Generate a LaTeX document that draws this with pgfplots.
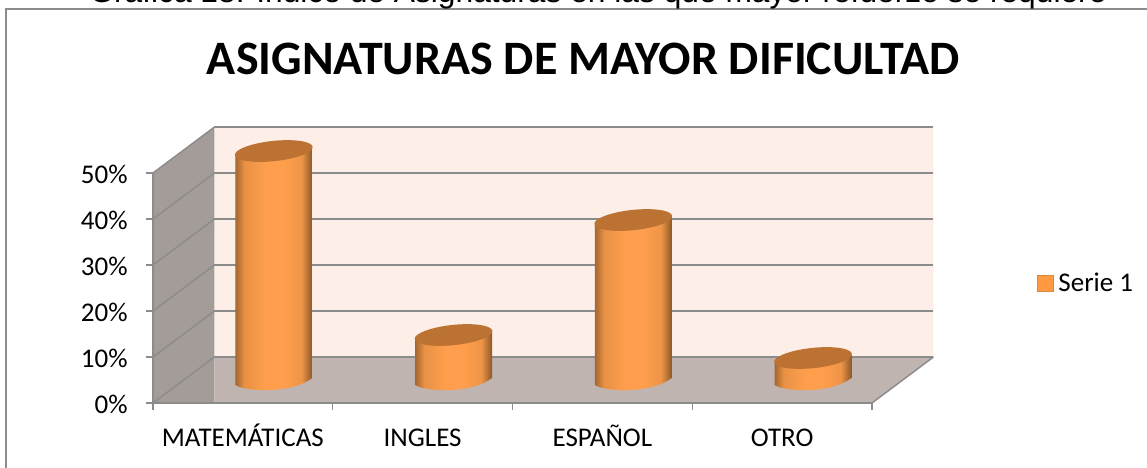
\documentclass[border=0pt]{standalone}
\usepackage{fontspec}
\setmainfont{Carlito}
\newfontfamily\arialfont{Liberation Sans}
\usepackage{pgfplots}
\pgfplotsset{compat=1.18}
\definecolor{axgray}{HTML}{8C8C8C}
\definecolor{wallback}{HTML}{FDEEE7}
\definecolor{wallside}{HTML}{A39C98}
\definecolor{wallfloor}{HTML}{BFB4B0}
\definecolor{cyltop}{HTML}{BB7232}
\definecolor{cyldark}{HTML}{A4662F}
\definecolor{cylmid}{HTML}{FF9F4D}
\definecolor{cylred}{HTML}{8C5826}
\pgfdeclarehorizontalshading{cylbody}{100bp}{color(0bp)=(cyldark);color(25bp)=(cyldark);color(31bp)=(cylmid!75!cyldark);color(45bp)=(cylmid);color(56bp)=(cylmid);color(68bp)=(cylmid!85!cylred);color(75bp)=(cylred);color(100bp)=(cylred)}
\pgfdeclareplotmark{cyl}{%
  \shade[shading=cylbody,draw=none] (-28.9pt,-3.0pt) -- (-28.9pt,-\barh pt-3.0pt)
     .. controls (-19pt,-\barh pt-8.8pt) and (15pt,-\barh pt-9.0pt) .. (28.9pt,-\barh pt+2.4pt)
     -- (28.9pt,2.4pt) -- cycle;
  \fill[cyltop,draw=none] (29.14pt,3.06pt)
     .. controls (28.70pt,7.24pt) and (15.30pt,9.25pt) .. (-0.79pt,7.56pt)
     .. controls (-16.88pt,5.87pt) and (-29.58pt,1.12pt) .. (-29.14pt,-3.06pt)
     .. controls (-28.70pt,-7.24pt) and (-15.30pt,-9.25pt) .. (0.79pt,-7.56pt)
     .. controls (16.88pt,-5.87pt) and (29.58pt,-1.12pt) .. (29.14pt,3.06pt) -- cycle;
}
\begin{document}
\begin{tikzpicture}[x=1pt,y=1pt]
\clip (0,0) rectangle (860.25,351);
\path[draw=axgray,line width=1.1pt] (4.6,-20) rectangle (880,344.2);
\node[anchor=base,font=\arialfont\fontsize{23.8}{24}\selectfont,inner sep=0pt] at (448.5,348.75) {Gráfica 18: Indice de Asignaturas en las que mayor refuerzo se requiere};
\node[anchor=base,font=\fontsize{36}{36}\selectfont\bfseries,inner sep=0pt] at (437.5,295) {ASIGNATURAS DE MAYOR DIFICULTAD};
\begin{axis}[
  at={(114.75pt,48.75pt)},anchor=south west,
  scale only axis,width=539.25pt,height=172.5pt,
  xmin=0,xmax=4,ymin=0,ymax=50,clip=false,
  axis x line*=bottom,axis y line*=left,
  axis line style={draw=axgray,line width=1.1pt,-},
  xtick={0,1,2,3,4},x tick label as interval,
  xticklabels={MATEMÁTICAS,INGLES,ESPAÑOL,OTRO},
  ytick={0,10,20,30,40,50},
  yticklabels={0\%,10\%,20\%,30\%,40\%,50\%},
  tick style={draw=axgray,line width=1.1pt},
  tick align=outside,
  major tick length=5.5pt,
  tick label style={font=\fontsize{20.25}{21}\selectfont},
  xticklabel style={yshift=-9.75pt,text height=14pt,text depth=4pt},
  yticklabel style={xshift=-10pt,yshift=-0.75pt},
  axis on top=true,
]
\addplot[draw=none,fill=wallback] coordinates {(0.342,10)(4.342,10)(4.342,60)(0.342,60)} \closedcycle;
\addplot[draw=none,fill=wallside] coordinates {(0,0)(0,50)(0.342,60)(0.342,10)} \closedcycle;
\addplot[draw=none,fill=wallfloor] coordinates {(0,0)(4,0)(4.342,10)(0.342,10)} \closedcycle;
\foreach \v in {10,20,30,40,50,60} {
  \edef\tmp{\noexpand\addplot[draw=axgray,line width=1.1pt,forget plot] coordinates {(0.342,\v)(4.342,\v)};}\tmp
}
\foreach \v/\w in {0/10,10/20,20/30,30/40,40/50,50/60} {
  \edef\tmp{\noexpand\addplot[draw=axgray,line width=1.1pt,forget plot] coordinates {(0,\v)(0.342,\w)};}\tmp
}
\addplot[draw=axgray,line width=1.1pt] coordinates {(4,0)(4.342,10)};
\end{axis}
\begin{axis}[
  at={(114.75pt,48.75pt)},anchor=south west,
  scale only axis,width=539.25pt,height=172.5pt,
  xmin=-0.172,xmax=3.828,ymin=-4.78,ymax=45.22,clip=false,
  hide axis,
  legend style={at={(1.2295,0.52)},anchor=west,draw=none,fill=none,inner sep=0pt,
    font=\fontsize{20.25}{21}\selectfont,
    legend cell align=left},
  legend image code/.code={\draw[draw=cylmid!60!cyldark,fill=cylmid!85!orange,line width=0.8pt] (0pt,-5.8pt) rectangle (11.6pt,5.8pt);},
]
\addplot[scatter,only marks,mark=cyl,scatter src=y,
   scatter/use mapped color={draw=none,fill=none},
   visualization depends on={\thisrow{pct}*3.45 \as \barh}]
   table[x=pos,y=pct] {
pos pct
0.5 50
1.5 10
2.5 35
3.5 5
};
\addlegendentry{\hspace{1.5pt}Serie 1}
\end{axis}
\end{tikzpicture}
\end{document}
